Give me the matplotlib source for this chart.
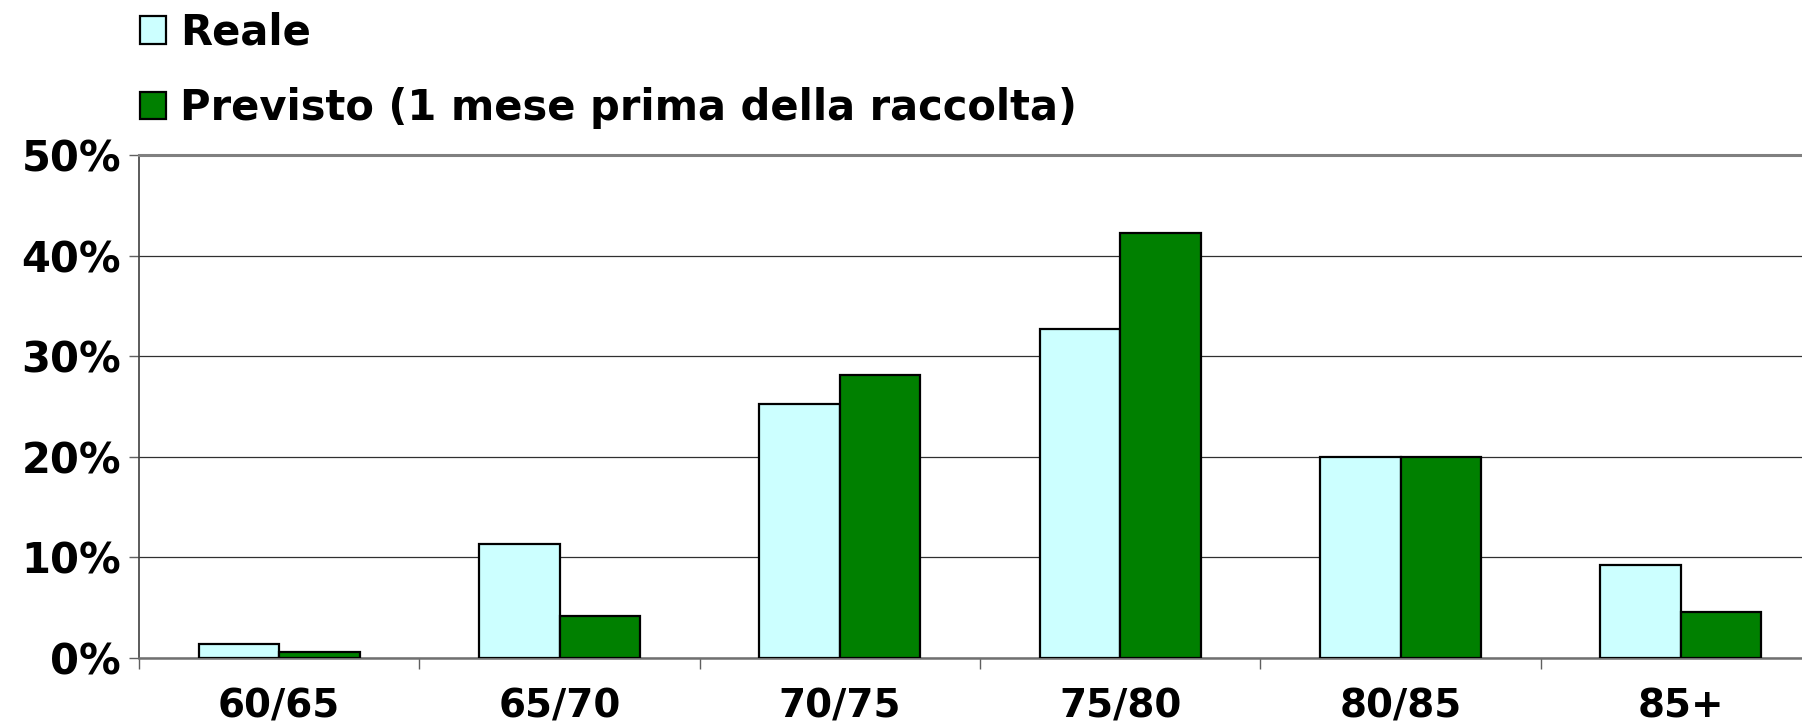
import numpy as np
import matplotlib
matplotlib.use("Agg")
import matplotlib.pyplot as plt
from matplotlib.ticker import FuncFormatter

categorie = ["60/65", "65/70", "70/75", "75/80", "80/85", "85+"]
reale = [1.4, 11.3, 25.2, 32.7, 20.0, 9.2]
previsto = [0.6, 4.2, 28.1, 42.2, 20.0, 4.6]
serie = ["Reale", "Previsto (1 mese prima della raccolta)"]

plt.rcParams['font.family'] = ['DejaVu Sans']
plt.rcParams['font.weight'] = 'bold'

fig = plt.figure(figsize=(18.02, 7.28), dpi=100)
ax = fig.add_axes([139/1802, 1-658/728, (1821-139)/1802, (658-155)/728])

x = np.arange(len(categorie))
w = 0.287
ax.bar(x - w/2, reale, w, color="#CCFFFF", edgecolor="black", linewidth=1.6, zorder=3, label=serie[0])
ax.bar(x + w/2, previsto, w, color="#008000", edgecolor="black", linewidth=1.6, zorder=3, label=serie[1])

ax.set_xlim(-0.5, len(categorie) - 0.5)
ax.set_ylim(0, 50)
ax.set_yticks(np.arange(0, 51, 10))
ax.yaxis.set_major_formatter(FuncFormatter(lambda v, p: "%d%%" % v))
ax.grid(axis='y', color="#303030", linewidth=0.9, zorder=0)

# tacche ai bordi delle categorie, etichette al centro
ax.set_xticks(np.arange(len(categorie) + 1) - 0.5)
ax.set_xticklabels([])
ax.set_xticks(x, minor=True)
ax.set_xticklabels(categorie, minor=True)
ax.tick_params(axis='x', which='major', length=8, color="#606060", width=1)
ax.tick_params(axis='x', which='minor', length=0, pad=21, labelsize=28)
ax.tick_params(axis='y', length=7, color="#606060", width=1, labelsize=30, pad=6)

for s in ['top', 'right']:
    ax.spines[s].set_visible(False)
ax.spines['left'].set_color("#404040")
ax.spines['left'].set_linewidth(1.2)
ax.spines['bottom'].set_color("#707070")
ax.spines['bottom'].set_linewidth(1.8)
ax.axhline(50, color="#808080", linewidth=2.2, zorder=4, clip_on=False)

ax.legend(loc='upper left', bbox_to_anchor=(128/1802, 1.0), bbox_transform=fig.transFigure,
          frameon=False, fontsize=30, handlelength=0.63, handleheight=0.63,
          handletextpad=0.33, labelspacing=0.81, borderpad=0.28, borderaxespad=0)

plt.savefig("out.png", dpi=100)
